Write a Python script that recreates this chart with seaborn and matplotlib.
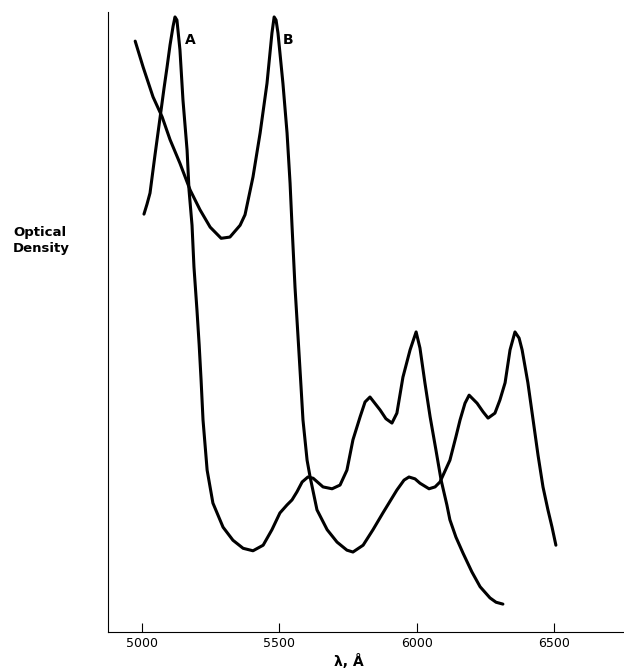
import matplotlib
matplotlib.use("Agg")
import matplotlib.pyplot as plt
import numpy as np
import pandas as pd
import seaborn as sns

# ---- data ----
wavelength_a = [5007, 5018, 5029, 5047, 5066, 5080, 5091, 5102, 5113, 5120, 5127, 5138,
                5149, 5164, 5171, 5182, 5189, 5200, 5208, 5215, 5222, 5237, 5258, 5295,
                5331, 5368, 5404, 5441, 5473, 5502, 5528, 5546, 5564, 5583, 5604, 5623,
                5659, 5692, 5721, 5746, 5768, 5794, 5812, 5830, 5867, 5888, 5910, 5928,
                5950, 5976, 5998, 6012, 6030, 6049, 6070, 6089, 6110, 6121, 6143, 6169,
                6201, 6231, 6267, 6289, 6314]
od_a = [0.674, 0.690, 0.708, 0.769, 0.831, 0.877, 0.911, 0.947, 0.977, 0.992, 0.987, 0.939,
        0.858, 0.777, 0.713, 0.656, 0.589, 0.519, 0.463, 0.406, 0.342, 0.261, 0.208, 0.169,
        0.148, 0.135, 0.131, 0.140, 0.165, 0.192, 0.205, 0.213, 0.226, 0.242, 0.250, 0.248,
        0.234, 0.231, 0.237, 0.261, 0.310, 0.347, 0.371, 0.379, 0.358, 0.344, 0.337, 0.353,
        0.411, 0.455, 0.484, 0.458, 0.402, 0.347, 0.294, 0.245, 0.205, 0.181, 0.153, 0.127,
        0.097, 0.073, 0.055, 0.048, 0.045]

wavelength_b = [4975, 5004, 5040, 5073, 5102, 5138, 5175, 5211, 5248, 5288, 5320, 5357,
                5375, 5404, 5430, 5455, 5473, 5481, 5488, 5495, 5513, 5528, 5539, 5546,
                5557, 5568, 5579, 5586, 5601, 5612, 5637, 5674, 5710, 5746, 5768, 5805,
                5841, 5877, 5928, 5954, 5972, 5994, 6012, 6045, 6067, 6085, 6121, 6143,
                6158, 6176, 6191, 6220, 6242, 6260, 6285, 6303, 6322, 6340, 6358, 6373,
                6384, 6405, 6424, 6442, 6460, 6478, 6493, 6507]
od_b = [0.953, 0.911, 0.863, 0.831, 0.794, 0.756, 0.713, 0.681, 0.653, 0.635, 0.637, 0.656,
        0.673, 0.734, 0.805, 0.885, 0.966, 0.992, 0.987, 0.966, 0.885, 0.805, 0.724, 0.656,
        0.556, 0.476, 0.395, 0.342, 0.277, 0.250, 0.197, 0.165, 0.145, 0.132, 0.129, 0.140,
        0.165, 0.192, 0.229, 0.245, 0.250, 0.247, 0.240, 0.231, 0.234, 0.242, 0.277, 0.315,
        0.342, 0.369, 0.382, 0.369, 0.355, 0.345, 0.353, 0.374, 0.402, 0.455, 0.484, 0.474,
        0.455, 0.402, 0.342, 0.285, 0.234, 0.197, 0.169, 0.140]

curve_names = ["A", "B"]
x_ticks = [5000, 5500, 6000, 6500]
x_tick_labels = ["5000", "5500", "6000", "6500"]

df = pd.concat([
    pd.DataFrame({"wavelength": wavelength_a, "od": od_a, "curve": "A"}),
    pd.DataFrame({"wavelength": wavelength_b, "od": od_b, "curve": "B"}),
], ignore_index=True)

# ---- plot ----
sns.set_theme(style="white")
plt.rcParams["font.family"] = ["DejaVu Sans"]
plt.rcParams["text.color"] = "black"
plt.rcParams["xtick.color"] = "black"
plt.rcParams["xtick.labelcolor"] = "black"

W, H = 624, 672
fig = plt.figure(figsize=(W / 100, H / 100), dpi=100)
ax = fig.add_axes([108 / W, 40 / H, (W - 108) / W, 620 / H])

sns.lineplot(data=df, x="wavelength", y="od", hue="curve", estimator=None, sort=False,
             palette={"A": "black", "B": "black"}, linewidth=2.2, legend=False, ax=ax,
             solid_joinstyle="round", solid_capstyle="round")

ax.set_xlim(4876, 6755)
ax.set_ylim(0, 1)
ax.set_xticks(x_ticks)
ax.set_xticklabels(x_tick_labels)
ax.set_yticks([])
ax.set_xlabel("")
ax.set_ylabel("")
ax.tick_params(axis="x", direction="in", length=6.5, width=0.8, pad=3.5,
               labelsize=9, colors="black", bottom=True)
for s in ["top", "right"]:
    ax.spines[s].set_visible(False)
for s in ["left", "bottom"]:
    ax.spines[s].set_linewidth(0.8)
    ax.spines[s].set_color("black")

# curve labels
ax.text(5175, 0.955, curve_names[0], ha="center", va="center", fontsize=10,
        fontweight="bold", color="black")
ax.text(5532, 0.955, curve_names[1], ha="center", va="center", fontsize=10,
        fontweight="bold", color="black")

# axis titles
fig.text(13 / W, 1 - 241 / H, "Optical\nDensity", ha="left", va="center",
         fontsize=9.5, fontweight="bold", linespacing=1.3, color="black")
fig.text(349 / W, 1 - 662 / H, "λ, Å", ha="center", va="center",
         fontsize=10, fontweight="bold", color="black")

fig.savefig("out.png", dpi=100)
